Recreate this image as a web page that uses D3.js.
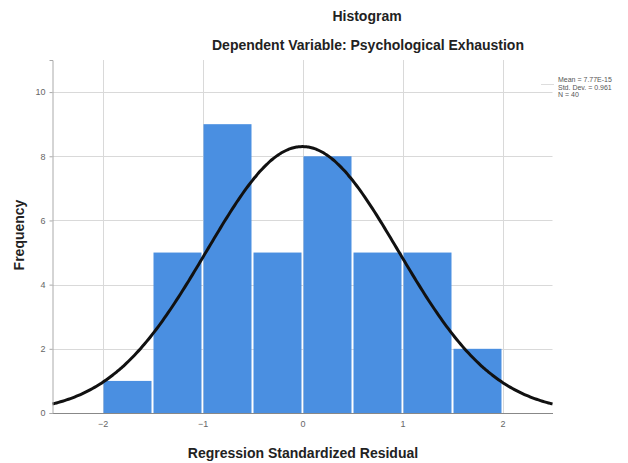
<!DOCTYPE html>
<html>
<head>
<meta charset="utf-8">
<script src="https://cdn.jsdelivr.net/npm/d3@7"></script>
<style>
  body { margin: 0; background: #fff; }
  text { font-family: "Liberation Sans", Arial, sans-serif; }
</style>
</head>
<body>
<div id="chart"></div>
<script>
// histogram bins (lower edge) and counts
var binStarts = [-2, -1.5, -1, -0.5, 0, 0.5, 1, 1.5];
var binWidth = 0.5;
var counts = [1, 5, 9, 5, 8, 5, 5, 2];
var xTicks = [-2, -1, 0, 1, 2];
var yTicks = [0, 2, 4, 6, 8, 10];
var stats = ["Mean = 7.77E-15", "Std. Dev. = 0.961", "N = 40"];
var meanVal = 0;
var sdVal = 0.961;
var nVal = 40;

var width = 628;
var height = 463;

var svg = d3.select("#chart")
  .append("svg")
  .attr("width", width)
  .attr("height", height);

var x = d3.scaleLinear().domain([-2.5, 2.5]).range([52.5, 552.5]);
var y = d3.scaleLinear().domain([0, 11]).range([413, 60]);

// grid lines
svg.append("g")
  .selectAll("line")
  .data(yTicks.filter(d => d > 0))
  .enter().append("line")
  .attr("x1", x(-2.5)).attr("x2", x(2.5))
  .attr("y1", d => Math.round(y(d)) + 0.5).attr("y2", d => Math.round(y(d)) + 0.5)
  .style("stroke", "#d9d9d9");

svg.append("g")
  .selectAll("line")
  .data(xTicks)
  .enter().append("line")
  .attr("x1", d => Math.round(x(d)) + 0.5).attr("x2", d => Math.round(x(d)) + 0.5)
  .attr("y1", y(11)).attr("y2", y(0))
  .style("stroke", "#d9d9d9");

// bars
svg.append("g")
  .selectAll("rect")
  .data(counts)
  .enter().append("rect")
  .attr("x", (d, i) => x(binStarts[i]) + 1)
  .attr("y", d => y(d))
  .attr("width", (d, i) => x(binStarts[i] + binWidth) - x(binStarts[i]) - 2)
  .attr("height", d => y(0) - y(d))
  .style("fill", "#4a8fe1");

// normal curve
var curvePts = d3.range(-2.5, 2.5001, 0.02);
var line = d3.line()
  .x(d => x(d))
  .y(d => y(nVal * binWidth * Math.exp(-0.5 * Math.pow((d - meanVal) / sdVal, 2)) / (sdVal * Math.sqrt(2 * Math.PI))))
  .curve(d3.curveBasis);

svg.append("path")
  .datum(curvePts)
  .attr("d", line)
  .style("fill", "none")
  .style("stroke", "#111")
  .style("stroke-width", 3);

// axes
var xAxis = d3.axisBottom(x).tickValues(xTicks).tickFormat(d3.format("d")).tickSize(0).tickPadding(8);
var yAxis = d3.axisLeft(y).tickValues(yTicks).tickSize(3).tickPadding(4);

var gx = svg.append("g")
  .attr("transform", "translate(0," + y(0) + ")")
  .call(xAxis);
gx.select(".domain").style("stroke", "#888");
gx.selectAll("text").style("font-size", "9px").style("fill", "#666");

var gy = svg.append("g")
  .attr("transform", "translate(" + x(-2.5) + ",0)")
  .call(yAxis);
gy.select(".domain").style("stroke", "#aaa");
gy.selectAll("line").style("stroke", "#aaa");
gy.selectAll("text").style("font-size", "9px").style("fill", "#666");

// titles
svg.append("text")
  .attr("x", 367).attr("y", 21)
  .attr("text-anchor", "middle")
  .style("font-size", "14px").style("font-weight", "bold").style("fill", "#222")
  .text("Histogram");

svg.append("text")
  .attr("x", 368).attr("y", 50)
  .attr("text-anchor", "middle")
  .style("font-size", "14px").style("font-weight", "bold").style("fill", "#222")
  .text("Dependent Variable: Psychological Exhaustion");

svg.append("text")
  .attr("text-anchor", "middle")
  .attr("transform", "translate(24,235)rotate(-90)")
  .style("font-size", "14px").style("font-weight", "bold").style("fill", "#222")
  .text("Frequency");

svg.append("text")
  .attr("x", 303).attr("y", 458)
  .attr("text-anchor", "middle")
  .style("font-size", "14px").style("font-weight", "bold").style("fill", "#222")
  .text("Regression Standardized Residual");

// stats box
svg.append("line")
  .attr("x1", 541).attr("x2", 554)
  .attr("y1", 84.5).attr("y2", 84.5)
  .style("stroke", "#ddd");

svg.append("g")
  .selectAll("text")
  .data(stats)
  .enter().append("text")
  .attr("x", 558)
  .attr("y", (d, i) => 82 + i * 7.5)
  .style("font-size", "7px")
  .style("fill", "#555")
  .text(d => d);
</script>
</body>
</html>
